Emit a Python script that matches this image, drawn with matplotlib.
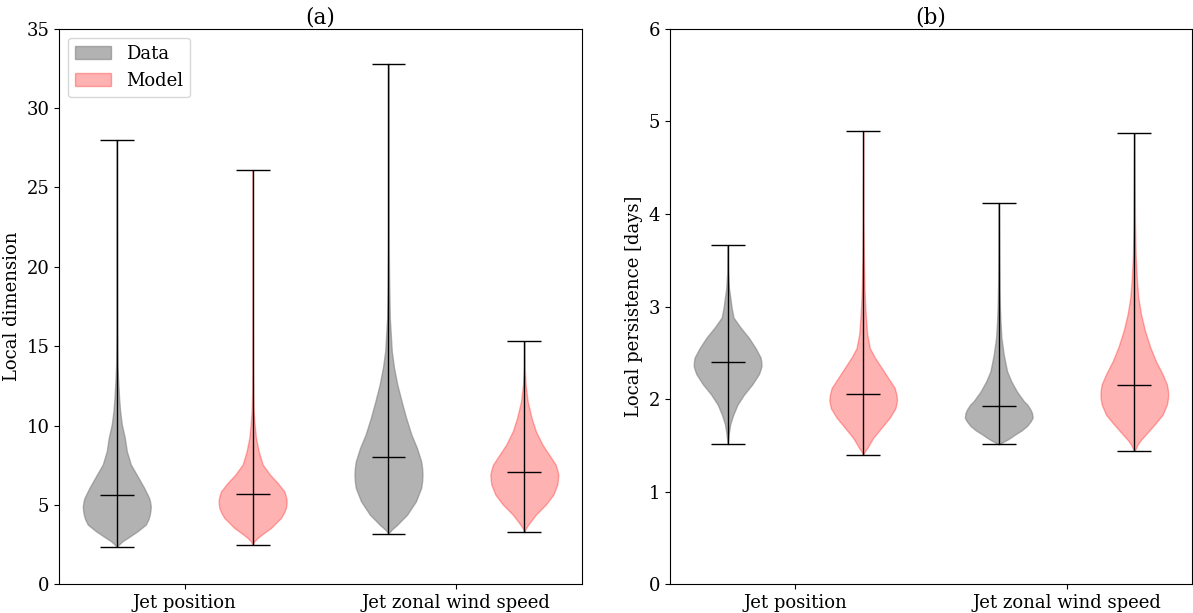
import matplotlib
matplotlib.use("Agg")
import matplotlib.pyplot as plt
import matplotlib.patches as mpatches
import numpy as np

plt.rcParams["font.family"] = "serif"
plt.rcParams["font.serif"] = ["DejaVu Serif"]
plt.rcParams["font.size"] = 13

# ── Violin profiles (value, relative half-width) ─────────────────────────────
# (a) local dimension
a_data_jp_y = [2.35, 2.5, 2.71, 3.0, 3.34, 3.76, 4.1, 4.39, 4.65, 4.92, 5.2, 5.44, 6.08, 6.71, 7.55,
               8.39, 9.23, 10.07, 10.9, 11.7, 12.8, 13.8, 15.5, 17.0, 20.0, 24.0, 28.0]
a_data_jp_w = [0, 6, 17, 38, 62, 87, 95, 99, 101, 102, 100, 97, 82, 65, 42,
               30, 24, 15, 10, 7, 4, 2, 1.2, 0.8, 0.5, 0.3, 0]
a_data_jp_med = 5.62

a_model_jp_y = [2.5, 2.7, 2.92, 3.2, 3.55, 4.18, 4.5, 4.81, 5.1, 5.34, 5.6, 5.86, 6.39, 6.91, 7.55,
                8.39, 9.23, 10.07, 10.9, 12.0, 14.0, 18.0, 26.1]
a_model_jp_w = [0, 5, 15, 32, 55, 85, 94, 100, 102, 102, 99, 95, 75, 52, 30,
                18, 10, 6, 3, 1.5, 0.8, 0.4, 0]
a_model_jp_med = 5.66

a_data_jz_y = [3.2, 3.45, 3.76, 4.39, 5.23, 6.07, 6.5, 6.91, 7.3, 7.75, 8.59, 9.43, 10.48, 11.53,
               12.58, 13.63, 14.68, 15.73, 16.78, 18.9, 21.0, 25.0, 32.8]
a_data_jz_w = [0, 10, 27, 57, 84, 100, 103, 104, 103, 100, 87, 70, 54, 40,
               27, 17, 10, 7, 4, 2, 1, 0.5, 0]
a_data_jz_med = 8.0

a_model_jz_y = [3.28, 3.5, 3.76, 4.39, 5.02, 5.65, 6.28, 6.6, 6.91, 7.2, 7.54, 8.17, 8.80, 9.64,
                10.48, 11.53, 12.58, 13.63, 15.3]
a_model_jz_w = [0, 4, 12, 35, 65, 88, 100, 102, 103, 100, 95, 75, 55, 35,
                22, 10, 4, 1, 0]
a_model_jz_med = 7.08

# (b) local persistence [days]
b_data_jp_y = [1.51, 1.62, 1.73, 1.83, 1.94, 2.05, 2.16, 2.27, 2.32, 2.36, 2.41, 2.45, 2.55,
               2.66, 2.77, 2.88, 2.99, 3.10, 3.20, 3.38, 3.66]
b_data_jp_w = [0, 3, 8, 17, 30, 50, 75, 95, 100, 103, 102, 100, 85,
               65, 40, 18, 12, 8, 4, 1, 0]
b_data_jp_med = 2.40

b_model_jp_y = [1.40, 1.44, 1.47, 1.52, 1.58, 1.69, 1.80, 1.90, 1.95, 1.99, 2.05, 2.12, 2.23,
                2.34, 2.45, 2.55, 2.70, 2.84, 3.02, 3.20, 3.56, 3.92, 4.4, 4.9]
b_model_jp_w = [0, 6, 12, 20, 30, 55, 80, 97, 100, 102, 100, 95, 75,
                55, 35, 20, 12, 9, 6, 4, 2, 1, 0.5, 0]
b_model_jp_med = 2.06

b_data_jz_y = [1.51, 1.535, 1.56, 1.59, 1.62, 1.66, 1.71, 1.76, 1.80, 1.85, 1.89, 1.94, 1.98,
               2.08, 2.19, 2.30, 2.48, 2.66, 2.84, 3.02, 3.20, 3.56, 3.9, 4.12]
b_data_jz_w = [0, 12, 25, 38, 50, 68, 85, 96, 102, 100, 95, 86, 75,
               55, 38, 25, 15, 8, 5, 3, 2, 1, 0.5, 0]
b_data_jz_med = 1.93

b_model_jz_y = [1.44, 1.47, 1.51, 1.56, 1.62, 1.73, 1.83, 1.94, 2.0, 2.05, 2.1, 2.16, 2.27,
                2.41, 2.56, 2.74, 2.92, 3.10, 3.28, 3.56, 3.92, 4.4, 4.87]
b_model_jz_w = [0, 5, 10, 20, 35, 62, 85, 98, 101, 102, 101, 98, 85,
                65, 48, 32, 20, 12, 8, 4, 2, 1, 0]
b_model_jz_med = 2.15

categories = ["Jet position", "Jet zonal wind speed"]


def stats(y, w, med):
    y = np.array(y, dtype=float)
    w = np.array(w, dtype=float)
    return dict(coords=y, vals=w, mean=med, median=med, min=y[0], max=y[-1])


def draw(ax, data_stats, model_stats):
    for vp_stats, pos, color, alpha in [(data_stats, [1, 3], "gray", 0.6),
                                        (model_stats, [2, 4], "red", 0.3)]:
        parts = ax.violin(vp_stats, positions=pos, widths=0.5,
                          showmeans=False, showextrema=True, showmedians=True)
        for pc in parts["bodies"]:
            pc.set_facecolor(color)
            pc.set_edgecolor(color)
            pc.set_alpha(alpha)
        for key in ["cbars", "cmins", "cmaxes", "cmedians"]:
            parts[key].set_color("black")
            parts[key].set_linewidth(1)
    ax.set_xticks([1.5, 3.5])
    ax.set_xticklabels(categories)


fig = plt.figure(figsize=(11.93, 6.13), dpi=100)
ax1 = fig.add_axes([0.0495, 0.0468, 0.4384, 0.9064])
ax2 = fig.add_axes([0.5616, 0.0468, 0.4375, 0.9064])

draw(ax1,
     [stats(a_data_jp_y, a_data_jp_w, a_data_jp_med), stats(a_data_jz_y, a_data_jz_w, a_data_jz_med)],
     [stats(a_model_jp_y, a_model_jp_w, a_model_jp_med), stats(a_model_jz_y, a_model_jz_w, a_model_jz_med)])
ax1.set_ylim(0, 35)
ax1.set_ylabel("Local dimension")
ax1.set_title("(a)", pad=3)
ax1.legend(handles=[mpatches.Patch(color="gray", alpha=0.6, label="Data"),
                    mpatches.Patch(color="red", alpha=0.3, label="Model")],
           loc="upper left")

draw(ax2,
     [stats(b_data_jp_y, b_data_jp_w, b_data_jp_med), stats(b_data_jz_y, b_data_jz_w, b_data_jz_med)],
     [stats(b_model_jp_y, b_model_jp_w, b_model_jp_med), stats(b_model_jz_y, b_model_jz_w, b_model_jz_med)])
ax2.set_ylim(0, 6)
ax2.set_ylabel("Local persistence [days]")
ax2.set_title("(b)", pad=3)

for ax in (ax1, ax2):
    ax.set_xlim(0.575, 4.425)

fig.savefig("out.png", dpi=100)
